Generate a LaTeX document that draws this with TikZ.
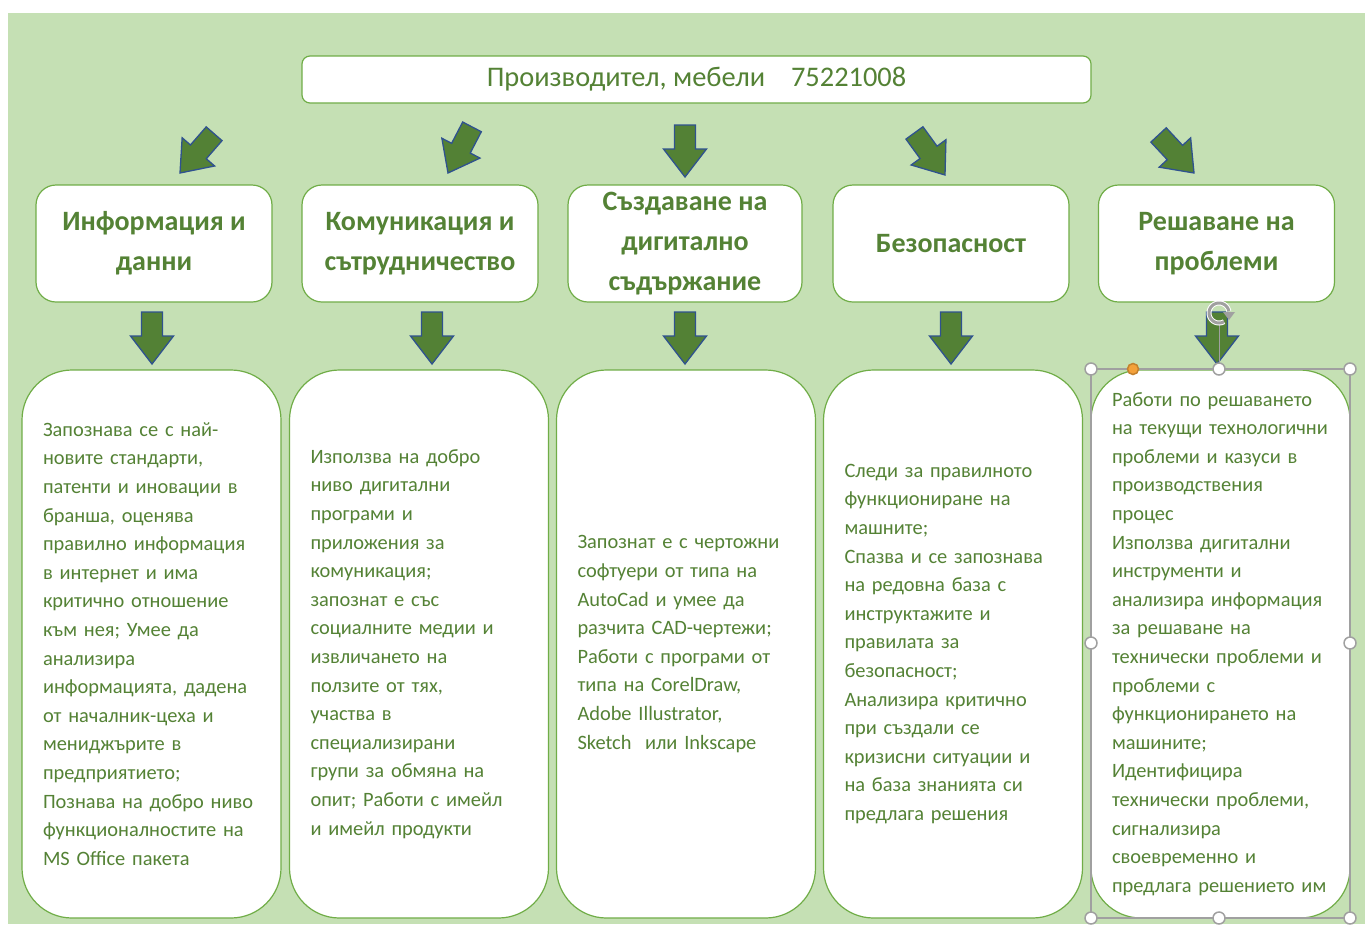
\documentclass[tikz,border=0pt]{standalone}
\usepackage{fontspec}
\setmainfont{Carlito}

\definecolor{bggreen}{HTML}{C5E0B4}
\definecolor{txtgreen}{HTML}{548235}
\definecolor{linegreen}{HTML}{70AD47}
\definecolor{arrowfill}{HTML}{538135}
\definecolor{arrowline}{HTML}{2F528F}
\definecolor{handlegray}{HTML}{A0A0A0}
\definecolor{handleorange}{HTML}{F4A13A}

\newcommand{\blockarrow}[2]{%
  \draw[arrowshape, shift={(#1)}, rotate=#2]
    (-10.5,-52) -- (10.5,-52) -- (10.5,-28) -- (21.5,-28) -- (0,0)
    -- (-21.5,-28) -- (-10.5,-28) -- cycle;}

\begin{document}
\begin{tikzpicture}[x=1pt, y=-1pt]
  \tikzstyle{head}=[draw=linegreen, fill=white, line width=1.2pt, rounded corners=8pt, minimum width=789pt, minimum height=47pt, text=txtgreen, font=\fontsize{28.4}{34}\selectfont]
  \tikzstyle{area}=[draw=linegreen, fill=white, line width=1.2pt, rounded corners=20pt, minimum width=236pt, minimum height=117pt, align=center, text=txtgreen, font=\bfseries\fontsize{28}{40}\selectfont]
  \tikzstyle{detail}=[draw=linegreen, fill=white, line width=1.2pt, rounded corners=50pt, minimum width=259pt, minimum height=548pt, text width=217pt, inner xsep=21pt, align=left, text=txtgreen, font=\fontsize{20.4}{28.6}\selectfont]
  \tikzstyle{arrowshape}=[fill=arrowfill, draw=arrowline, line width=1.3pt, line join=miter]
  \tikzstyle{handle}=[circle, draw=handlegray, fill=white, line width=1.5pt, minimum size=12pt, inner sep=0pt]

  \useasboundingbox (0,0) rectangle (1365,924);
  \fill[white] (0,0) rectangle (1365,924);
  \fill[bggreen] (8,13) rectangle (1365,924);

  \node[head] (top) at (696.5,79.5) {Производител, мебели\hspace{26pt}75221008};

  \node[area] (a1) at (154,  243.5) {Информация и\\данни};
  \node[area] (a2) at (420,  243.5) {Комуникация и\\сътрудничество};
  \node[area, minimum width=234pt] (a3) at (685,  243.5) {Създаване на\\дигитално\\съдържание};
  \node[area] (a4) at (951,  243.5) {Безопасност};
  \node[area] (a5) at (1216.5,243.5) {Решаване на\\проблеми};

  \node[detail] (d1) at (151.5, 644) {Запознава се с най-\\новите стандарти,\\патенти и иновации в\\бранша, оценява\\правилно информация\\в интернет и има\\критично отношение\\към нея; Умее да\\анализира\\информацията, дадена\\от началник-цеха и\\мениджърите в\\предприятието;\\Познава на добро ниво\\функционалностите на\\MS Office пакета};
  \node[detail] (d2) at (419,   644) {Използва на добро\\ниво дигитални\\програми и\\приложения за\\комуникация;\\запознат е със\\социалните медии и\\извличането на\\ползите от тях,\\участва в\\специализирани\\групи за обмяна на\\опит; Работи с имейл\\и имейл продукти};
  \node[detail] (d3) at (686,   644) {Запознат е с чертожни\\софтуери от типа на\\AutoCad и умее да\\разчита CAD-чертежи;\\Работи с програми от\\типа на CorelDraw,\\Adobe Illustrator,\\Sketch\ \ или Inkscape};
  \node[detail] (d4) at (953,   644) {Следи за правилното\\функциониране на\\машните;\\Спазва и се запознава\\на редовна база с\\инструктажите и\\правилата за\\безопасност;\\Анализира критично\\при създали се\\кризисни ситуации и\\на база знанията си\\предлага решения};
  \node[detail] (d5) at (1220.5,644) {Работи по решаването\\на текущи технологични\\проблеми и казуси в\\производствения\\процес\\Използва дигитални\\инструменти и\\анализира информация\\за решаване на\\технически проблеми и\\проблеми с\\функционирането на\\машините;\\Идентифицира\\технически проблеми,\\сигнализира\\своевременно и\\предлага решението им};

  \coordinate (t1) at (180,  173);
  \coordinate (t2) at (448,  173);
  \coordinate (t3) at (685,  177);
  \coordinate (t4) at (945,  175);
  \coordinate (t5) at (1194, 173);
  \blockarrow{t1}{-41}
  \blockarrow{t2}{-27.5}
  \blockarrow{t3}{0}
  \blockarrow{t4}{36}
  \blockarrow{t5}{43}

  \coordinate (b1) at (152,  364);
  \coordinate (b2) at (432,  364);
  \coordinate (b3) at (685,  364);
  \coordinate (b4) at (951,  364);
  \coordinate (b5) at (1217, 364);
  \foreach \i in {1,...,5} {\blockarrow{b\i}{0}}

  \draw[handlegray, line width=1.2pt] (1091,369) rectangle (1350,918);
  \draw[handlegray, line width=0.8pt] (1219,322) -- (1219,369);
  \draw[white, line width=5pt] plot[domain=-10:-300, samples=40] ({1219+10*cos(\x)},{313+10*sin(\x)});
  \draw[handlegray, line width=3pt] plot[domain=-10:-300, samples=40] ({1219+10*cos(\x)},{313+10*sin(\x)});
  \fill[handlegray] (1223,312) -- (1235,312) -- (1229,320) -- cycle;
  \foreach \hx/\hy in {1091/369, 1219/369, 1350/369, 1091/643, 1350/643, 1091/918, 1219/918, 1350/918}
    \node[handle] at (\hx,\hy) {};
  \node[handle, fill=handleorange, draw=handleorange!80!black, minimum size=11pt] at (1133,369) {};
\end{tikzpicture}
\end{document}
